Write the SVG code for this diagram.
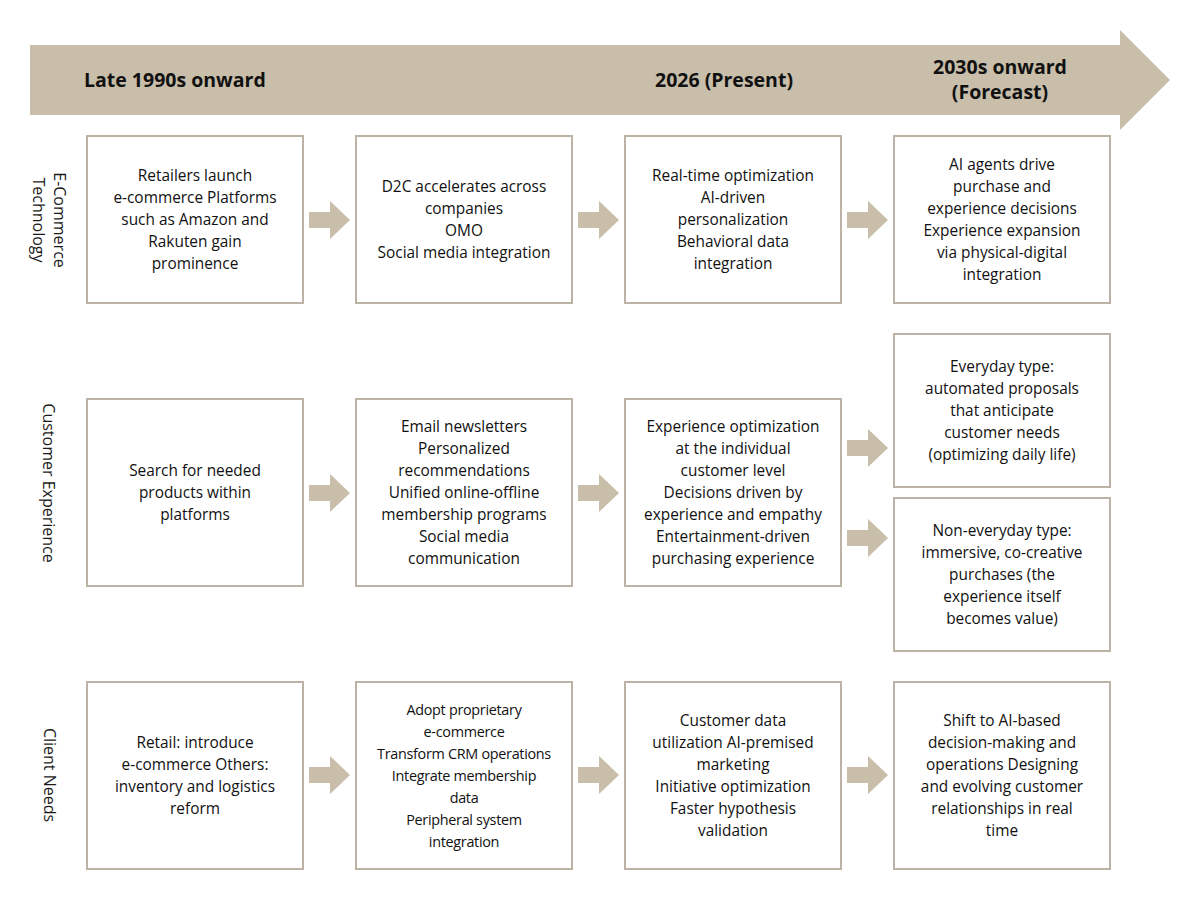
<svg xmlns="http://www.w3.org/2000/svg" width="1200" height="900" viewBox="0 0 1200 900">
<style>
  .bg { fill: #ffffff; }
  .banner { fill: #c8bea9; }
  .hdr { font-family: "Open Sans", "Liberation Sans", sans-serif; font-weight: bold; font-size: 19.5px; fill: #111111; }
  .lane { font-family: "Open Sans", "Liberation Sans", sans-serif; font-size: 16px; fill: #1a1a1a; text-anchor: middle; }
  .box { fill: #ffffff; stroke: #bcb2a6; stroke-width: 2; }
  .txt { font-family: "Open Sans", "Liberation Sans", sans-serif; font-size: 15.4px; fill: #111111; text-anchor: middle; }
  .txt-s { font-size: 14.4px; letter-spacing: -0.3px; }
  .arr { fill: #c8bea9; }
</style>
<defs>
  <path id="blk" d="M0,-8 L21,-8 L21,-19 L41,0 L21,19 L21,8 L0,8 Z"/>
</defs>
<rect class="bg" x="0" y="0" width="1200" height="900"/>

<g id="timeline">
  <polygon class="banner" points="30,45 1120,45 1120,30 1170,80 1120,130 1120,115 30,115"/>
  <text class="hdr" x="84" y="87">Late 1990s onward</text>
  <text class="hdr" x="724" y="87" text-anchor="middle">2026 (Present)</text>
  <text class="hdr" x="1000" y="74" text-anchor="middle">2030s onward</text>
  <text class="hdr" x="1000" y="99" text-anchor="middle">(Forecast)</text>
</g>

<g id="lane-labels">
  <text class="lane" transform="translate(54,220) rotate(90)">E-Commerce</text>
  <text class="lane" transform="translate(33,220) rotate(90)">Technology</text>
  <text class="lane" transform="translate(43,483) rotate(90)">Customer Experience</text>
  <text class="lane" transform="translate(44,775) rotate(90)">Client Needs</text>
</g>

<g id="connectors">
  <use href="#blk" class="arr" x="309" y="220"/>
  <use href="#blk" class="arr" x="578" y="220"/>
  <use href="#blk" class="arr" x="847" y="220"/>
  <use href="#blk" class="arr" x="309" y="493"/>
  <use href="#blk" class="arr" x="578" y="493"/>
  <use href="#blk" class="arr" x="847" y="448"/>
  <use href="#blk" class="arr" x="847" y="538"/>
  <use href="#blk" class="arr" x="309" y="775"/>
  <use href="#blk" class="arr" x="578" y="775"/>
  <use href="#blk" class="arr" x="847" y="775"/>
</g>

<g id="ec-1">
  <rect class="box" x="87" y="136" width="216" height="167"/>
  <text class="txt" x="195" y="181">Retailers launch<tspan x="195" dy="22">e-commerce Platforms</tspan><tspan x="195" dy="22">such as Amazon and</tspan><tspan x="195" dy="22">Rakuten gain</tspan><tspan x="195" dy="22">prominence</tspan></text>
</g>
<g id="ec-2">
  <rect class="box" x="356" y="136" width="216" height="167"/>
  <text class="txt" x="464" y="192">D2C accelerates across<tspan x="464" dy="22">companies</tspan><tspan x="464" dy="22">OMO</tspan><tspan x="464" dy="22">Social media integration</tspan></text>
</g>
<g id="ec-3">
  <rect class="box" x="625" y="136" width="216" height="167"/>
  <text class="txt" x="733" y="181">Real-time optimization<tspan x="733" dy="22">AI-driven</tspan><tspan x="733" dy="22">personalization</tspan><tspan x="733" dy="22">Behavioral data</tspan><tspan x="733" dy="22">integration</tspan></text>
</g>
<g id="ec-4">
  <rect class="box" x="894" y="136" width="216" height="167"/>
  <text class="txt" x="1002" y="170">AI agents drive<tspan x="1002" dy="22">purchase and</tspan><tspan x="1002" dy="22">experience decisions</tspan><tspan x="1002" dy="22">Experience expansion</tspan><tspan x="1002" dy="22">via physical-digital</tspan><tspan x="1002" dy="22">integration</tspan></text>
</g>

<g id="cx-1">
  <rect class="box" x="87" y="399" width="216" height="187"/>
  <text class="txt" x="195" y="476">Search for needed<tspan x="195" dy="22">products within</tspan><tspan x="195" dy="22">platforms</tspan></text>
</g>
<g id="cx-2">
  <rect class="box" x="356" y="399" width="216" height="187"/>
  <text class="txt" x="464" y="432">Email newsletters<tspan x="464" dy="22">Personalized</tspan><tspan x="464" dy="22">recommendations</tspan><tspan x="464" dy="22">Unified online-offline</tspan><tspan x="464" dy="22">membership programs</tspan><tspan x="464" dy="22">Social media</tspan><tspan x="464" dy="22">communication</tspan></text>
</g>
<g id="cx-3">
  <rect class="box" x="625" y="399" width="216" height="187"/>
  <text class="txt" x="733" y="432">Experience optimization<tspan x="733" dy="22">at the individual</tspan><tspan x="733" dy="22">customer level</tspan><tspan x="733" dy="22">Decisions driven by</tspan><tspan x="733" dy="22">experience and empathy</tspan><tspan x="733" dy="22">Entertainment-driven</tspan><tspan x="733" dy="22">purchasing experience</tspan></text>
</g>
<g id="cx-4a">
  <rect class="box" x="894" y="334" width="216" height="153"/>
  <text class="txt" x="1002" y="372">Everyday type:<tspan x="1002" dy="22">automated proposals</tspan><tspan x="1002" dy="22">that anticipate</tspan><tspan x="1002" dy="22">customer needs</tspan><tspan x="1002" dy="22">(optimizing daily life)</tspan></text>
</g>
<g id="cx-4b">
  <rect class="box" x="894" y="498" width="216" height="153"/>
  <text class="txt" x="1002" y="536">Non-everyday type:<tspan x="1002" dy="22">immersive, co-creative</tspan><tspan x="1002" dy="22">purchases (the</tspan><tspan x="1002" dy="22">experience itself</tspan><tspan x="1002" dy="22">becomes value)</tspan></text>
</g>

<g id="cn-1">
  <rect class="box" x="87" y="682" width="216" height="187"/>
  <text class="txt" x="195" y="748">Retail: introduce<tspan x="195" dy="22">e-commerce Others:</tspan><tspan x="195" dy="22">inventory and logistics</tspan><tspan x="195" dy="22">reform</tspan></text>
</g>
<g id="cn-2">
  <rect class="box" x="356" y="682" width="216" height="187"/>
  <text class="txt txt-s" x="464" y="715">Adopt proprietary<tspan x="464" dy="22">e-commerce</tspan><tspan x="464" dy="22">Transform CRM operations</tspan><tspan x="464" dy="22">Integrate membership</tspan><tspan x="464" dy="22">data</tspan><tspan x="464" dy="22">Peripheral system</tspan><tspan x="464" dy="22">integration</tspan></text>
</g>
<g id="cn-3">
  <rect class="box" x="625" y="682" width="216" height="187"/>
  <text class="txt" x="733" y="726">Customer data<tspan x="733" dy="22">utilization AI-premised</tspan><tspan x="733" dy="22">marketing</tspan><tspan x="733" dy="22">Initiative optimization</tspan><tspan x="733" dy="22">Faster hypothesis</tspan><tspan x="733" dy="22">validation</tspan></text>
</g>
<g id="cn-4">
  <rect class="box" x="894" y="682" width="216" height="187"/>
  <text class="txt" x="1002" y="726">Shift to AI-based<tspan x="1002" dy="22">decision-making and</tspan><tspan x="1002" dy="22">operations Designing</tspan><tspan x="1002" dy="22">and evolving customer</tspan><tspan x="1002" dy="22">relationships in real</tspan><tspan x="1002" dy="22">time</tspan></text>
</g>
</svg>
